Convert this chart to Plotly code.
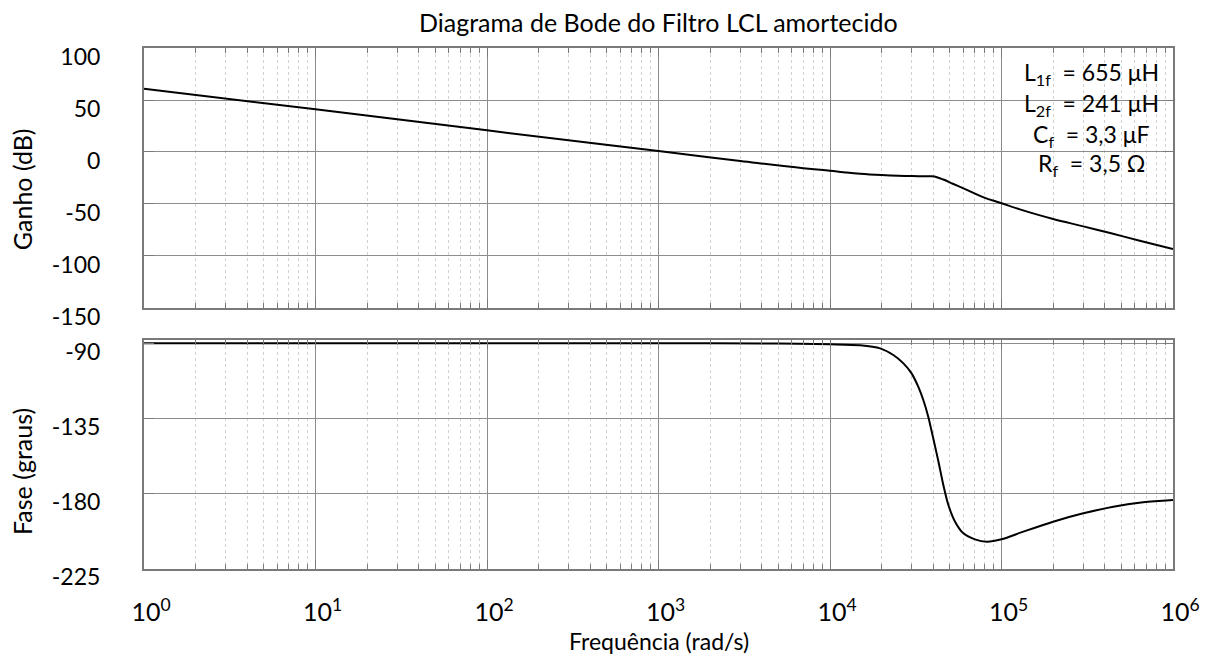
import plotly.graph_objects as go

# Frequency response of the damped LCL filter
freq_gain = [1, 10, 100, 1000, 3000, 7000, 1.0e4, 1.2e4, 1.5e4, 2.0e4, 2.5e4, 3.0e4,
             3.5e4, 3.9e4, 4.2e4, 4.58e4, 5.2e4, 6.0e4, 7.8e4, 1.0e5, 1.28e5, 1.6e5,
             2.0e5, 3.0e5, 4.3e5, 6.4e5, 1.0e6]
gain_db = [60.8, 41.0, 20.8, 0.9, -8.6, -15.6, -18.0, -19.4, -20.9, -22.2, -22.9, -23.2,
           -23.3, -23.4, -24.2, -26.5, -30.5, -35.0, -43.4, -49.3, -55.2, -60.0,
           -64.4, -71.5, -77.9, -85.3, -93.3]

freq_phase = [1, 10, 100, 1000, 5000, 1.0e4, 1.5e4, 1.96e4, 2.34e4, 2.68e4, 2.99e4,
              3.27e4, 3.5e4, 3.74e4, 4.0e4, 4.29e4, 4.58e4, 4.9e4, 5.36e4, 6.0e4,
              7.0e4, 8.2e4, 1.0e5, 1.34e5, 2.0e5, 3.0e5, 4.49e5, 6.7e5, 1.0e6]
phase_deg = [-90, -90, -90, -90, -90.1, -90.6, -91.2, -93.0, -97.0, -102.0, -108.0,
             -116.0, -124.0, -134.0, -147.0, -161.0, -175.0, -187.0, -197.0, -204.0,
             -207.6, -209.0, -207.6, -203.0, -197.0, -192.0, -188.0, -185.4, -184.0]

gain_ticks = [100, 50, 0, -50, -100, -150]
phase_ticks = [-90, -135, -180, -225]
decades = [1, 10, 100, 1000, 1e4, 1e5, 1e6]
decade_labels = ["10<sup>%d</sup>" % k for k in range(7)]

params = [
    "L<sub>1f</sub>  = 655 μH",
    "L<sub>2f</sub>  = 241 μH",
    "C<sub>f</sub>  = 3,3 μF",
    "R<sub>f</sub>  = 3,5 Ω",
]

FONT = "Lato"
GRID = "#8c8c8c"
MINOR_GRID = "#d2d2d2"
FRAME = "#7a7a7a"

minor_vals = [m * 10 ** e for e in range(6) for m in range(2, 10)]

fig = go.Figure()
fig.add_trace(go.Scatter(x=freq_gain, y=gain_db, mode="lines",
                         line=dict(color="black", width=2, shape="spline", smoothing=1.2),
                         xaxis="x", yaxis="y", showlegend=False))
fig.add_trace(go.Scatter(x=freq_phase, y=phase_deg, mode="lines",
                         line=dict(color="black", width=2, shape="spline", smoothing=0.8),
                         xaxis="x2", yaxis="y2", showlegend=False))


def xaxis_style(show_labels):
    return dict(
        type="log", range=[0, 6],
        tickmode="array", tickvals=decades,
        ticktext=decade_labels if show_labels else [""] * len(decades),
        showticklabels=show_labels,
        ticks="inside", ticklen=9, tickwidth=1, tickcolor=FRAME,
        showline=True, linecolor=FRAME, linewidth=2, mirror="allticks",
        showgrid=True, gridcolor=GRID, gridwidth=1,
        zeroline=False,
        minor=dict(tickmode="array", tickvals=minor_vals, ticks="inside",
                   ticklen=5, tickwidth=1, tickcolor=FRAME,
                   showgrid=True, gridcolor=MINOR_GRID, griddash="dot", gridwidth=1),
        tickfont=dict(family=FONT, size=25, color="black"),
    )


def yaxis_style(vals, rng, domain):
    return dict(
        range=rng, domain=domain,
        tickmode="array", tickvals=vals, ticktext=[str(v) for v in vals],
        ticks="inside", ticklen=10, tickwidth=1, tickcolor=FRAME,
        showline=True, linecolor=FRAME, linewidth=2, mirror="allticks",
        showgrid=True, gridcolor=GRID, gridwidth=1, zeroline=False,
        tickfont=dict(family=FONT, size=23, color="black"),
        ticklabelstandoff=37, ticklabelshift=9,
    )


xa1 = xaxis_style(False)
xa1.update(anchor="y", domain=[0, 1])
xa2 = xaxis_style(True)
xa2.update(anchor="y2", domain=[0, 1], matches="x", ticklabelstandoff=20, ticklabelshift=7)

fig.update_layout(
    width=1218, height=659,
    margin=dict(l=144, r=45, t=48, b=90),
    paper_bgcolor="white", plot_bgcolor="white",
    font=dict(family=FONT, size=22, color="black"),
    xaxis=xa1,
    yaxis=yaxis_style(gain_ticks, [-150, 100], [0.501, 1.0]),
    xaxis2=xa2,
    yaxis2=dict(yaxis_style(phase_ticks, [-225.4, -88], [0.0, 0.4395]), anchor="x2"),
)
fig.layout.yaxis.anchor = "x"

annotations = [
    dict(text="Diagrama de Bode do Filtro LCL amortecido", x=0.5, y=1.05,
         xref="paper", yref="paper", showarrow=False,
         font=dict(family=FONT, size=25, color="black"), xanchor="center", yanchor="middle"),
    dict(text="Ganho (dB)", x=-0.1186, y=0.729, xref="paper", yref="paper",
         showarrow=False, textangle=-90, font=dict(family=FONT, size=25, color="black"),
         xanchor="center", yanchor="middle"),
    dict(text="Fase (graus)", x=-0.1186, y=0.188, xref="paper", yref="paper",
         showarrow=False, textangle=-90, font=dict(family=FONT, size=25, color="black"),
         xanchor="center", yanchor="middle"),
    dict(text="Frequência (rad/s)", x=0.5, y=-0.138, xref="paper", yref="paper",
         showarrow=False, font=dict(family=FONT, size=23, color="black"),
         xanchor="center", yanchor="middle"),
]
for text, ypos in zip(params, [0.952, 0.891, 0.833, 0.776]):
    annotations.append(dict(text=text, x=0.921, y=ypos, xref="paper", yref="paper",
                            showarrow=False, font=dict(family=FONT, size=23, color="black"),
                            xanchor="center", yanchor="middle"))
fig.update_layout(annotations=annotations)

fig.write_html("out.html")
